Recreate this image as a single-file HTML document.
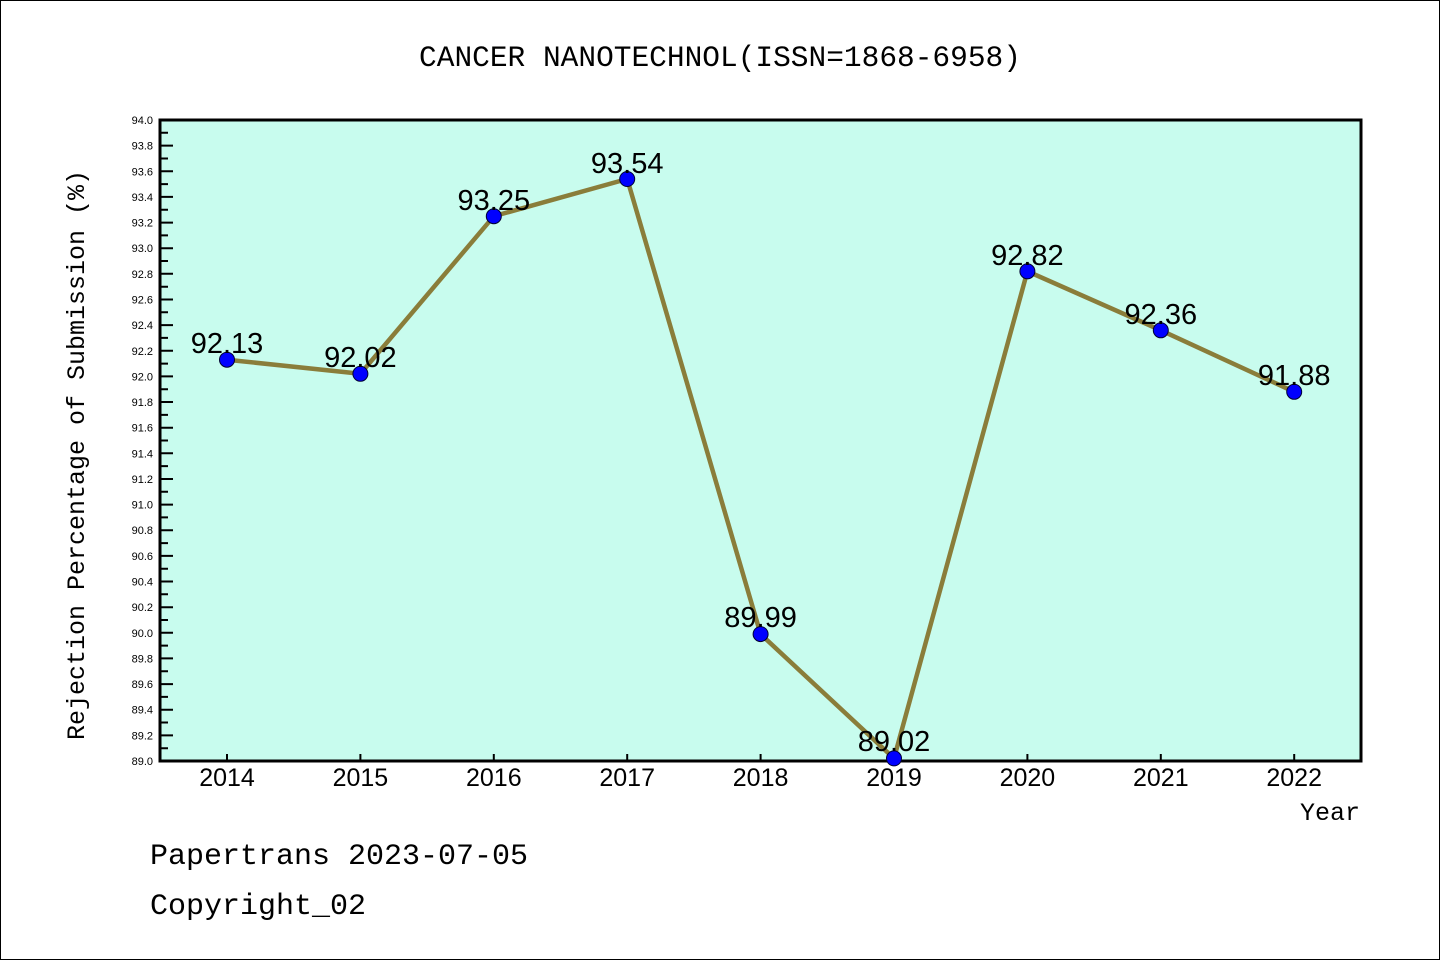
<!DOCTYPE html>
<html><head><meta charset="utf-8"><style>body{margin:0;background:#fff}svg{display:block}</style></head><body>
<svg width="1440" height="960" xmlns="http://www.w3.org/2000/svg" font-family="Liberation Sans, DejaVu Sans, sans-serif">
<rect x="0.5" y="0.5" width="1439" height="959" fill="#fff" stroke="#000"/>
<text x="720" y="66" font-size="29.5" text-anchor="middle" font-family="Liberation Mono, monospace">CANCER NANOTECHNOL(ISSN=1868-6958)</text>
<rect x="160" y="120" width="1201" height="641" fill="#c8fcee"/>
<g stroke="#000" stroke-width="2">
<path d="M160 132.8h8M160 158.5h8M160 184.1h8M160 209.7h8M160 235.4h8M160 261h8M160 286.7h8M160 312.3h8M160 337.9h8M160 363.6h8M160 389.2h8M160 414.9h8M160 440.5h8M160 466.1h8M160 491.8h8M160 517.4h8M160 543.1h8M160 568.7h8M160 594.3h8M160 620h8M160 645.6h8M160 671.3h8M160 696.9h8M160 722.5h8M160 748.2h8"/>
<path d="M160 145.6h13M160 171.3h13M160 196.9h13M160 222.6h13M160 248.2h13M160 273.8h13M160 299.5h13M160 325.1h13M160 350.8h13M160 376.4h13M160 402h13M160 427.7h13M160 453.3h13M160 479h13M160 504.6h13M160 530.2h13M160 555.9h13M160 581.5h13M160 607.2h13M160 632.8h13M160 658.4h13M160 684.1h13M160 709.7h13M160 735.4h13"/>
<path d="M227 761v-7M360.4 761v-7M493.8 761v-7M627.2 761v-7M760.6 761v-7M894 761v-7M1027.4 761v-7M1160.8 761v-7M1294.2 761v-7"/>
</g>
<rect x="160" y="120" width="1201" height="641" fill="none" stroke="#000" stroke-width="3"/>
<g font-size="11" text-anchor="end">
<text x="153" y="124">94.0</text><text x="153" y="149.6">93.8</text><text x="153" y="175.3">93.6</text><text x="153" y="200.9">93.4</text><text x="153" y="226.6">93.2</text><text x="153" y="252.2">93.0</text><text x="153" y="277.8">92.8</text><text x="153" y="303.5">92.6</text><text x="153" y="329.1">92.4</text><text x="153" y="354.8">92.2</text><text x="153" y="380.4">92.0</text><text x="153" y="406">91.8</text><text x="153" y="431.7">91.6</text><text x="153" y="457.3">91.4</text><text x="153" y="483">91.2</text><text x="153" y="508.6">91.0</text><text x="153" y="534.2">90.8</text><text x="153" y="559.9">90.6</text><text x="153" y="585.5">90.4</text><text x="153" y="611.2">90.2</text><text x="153" y="636.8">90.0</text><text x="153" y="662.4">89.8</text><text x="153" y="688.1">89.6</text><text x="153" y="713.7">89.4</text><text x="153" y="739.4">89.2</text><text x="153" y="765">89.0</text>
</g>
<g font-size="25" text-anchor="middle">
<text x="227" y="786">2014</text><text x="360.4" y="786">2015</text><text x="493.8" y="786">2016</text><text x="627.2" y="786">2017</text><text x="760.6" y="786">2018</text><text x="894" y="786">2019</text><text x="1027.4" y="786">2020</text><text x="1160.8" y="786">2021</text><text x="1294.2" y="786">2022</text>
</g>
<text x="1360" y="820" font-size="25" text-anchor="end" font-family="Liberation Mono, monospace">Year</text>
<text transform="translate(84,455) rotate(-90)" font-size="25" text-anchor="middle" font-family="Liberation Mono, monospace">Rejection Percentage of Submission (%)</text>
<polyline points="227,359.7 360.4,373.8 493.8,216.2 627.2,179 760.6,634.1 894,758.4 1027.4,271.3 1160.8,330.3 1294.2,391.8" fill="none" stroke="#8a7d3a" stroke-width="4.5"/>
<g fill="#0000ff" stroke="#000033" stroke-width="1">
<circle cx="227" cy="359.7" r="7.5"/><circle cx="360.4" cy="373.8" r="7.5"/><circle cx="493.8" cy="216.2" r="7.5"/><circle cx="627.2" cy="179" r="7.5"/><circle cx="760.6" cy="634.1" r="7.5"/><circle cx="894" cy="758.4" r="7.5"/><circle cx="1027.4" cy="271.3" r="7.5"/><circle cx="1160.8" cy="330.3" r="7.5"/><circle cx="1294.2" cy="391.8" r="7.5"/>
</g>
<g font-size="29" text-anchor="middle">
<text x="227" y="353">92.13</text><text x="360.4" y="367">92.02</text><text x="493.8" y="210">93.25</text><text x="627.2" y="173">93.54</text><text x="760.6" y="627">89.99</text><text x="894" y="751">89.02</text><text x="1027.4" y="265">92.82</text><text x="1160.8" y="324">92.36</text><text x="1294.2" y="385">91.88</text>
</g>
<g font-size="30" font-family="Liberation Mono, monospace">
<text x="150" y="864">Papertrans 2023-07-05</text>
<text x="150" y="914">Copyright_02</text>
</g>
</svg>
</body></html>
